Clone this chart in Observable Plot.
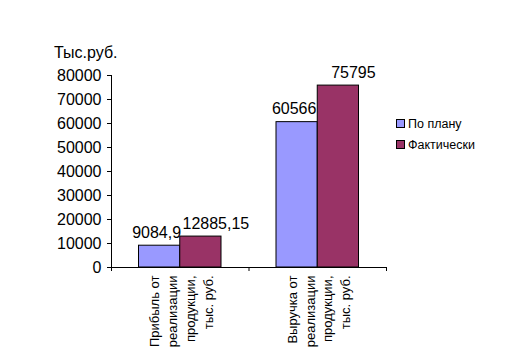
<!DOCTYPE html>
<html>
<head>
<meta charset="utf-8">
<script src="https://cdn.jsdelivr.net/npm/d3@7"></script>
<script src="https://cdn.jsdelivr.net/npm/@observablehq/plot@0.6"></script>
<style>
  html, body { margin: 0; padding: 0; background: #fff; }
  #wrap { position: relative; width: 529px; height: 357px; font-family: "Liberation Sans", Arial, sans-serif; }
  #title { position: absolute; left: 54px; top: 44px; font-size: 16px; color: #000; }
  #legend { position: absolute; left: 396px; top: 113px; font-size: 12.5px; color: #000; }
  .item { display: flex; align-items: center; height: 21px; }
  .sw { width: 7px; height: 7px; border: 1px solid #000; margin-right: 3px; }
</style>
</head>
<body>
<div id="wrap">
  <div id="title">Тыс.руб.</div>
  <div id="legend"></div>
</div>
<script>
const categories = ["Прибыль от\nреализации\nпродукции,\nтыс. руб.", "Выручка от\nреализации\nпродукции,\nтыс. руб."];
const series = ["По плану", "Фактически"];
const planValues = [9084.9, 60566];
const factValues = [12885.15, 75795];
const yTicks = [0, 10000, 20000, 30000, 40000, 50000, 60000, 70000, 80000];
const colors = ["#9999ff", "#993366"];

const data = [];
categories.forEach((c, i) => {
  data.push({ i, cat: c, s: 0, series: series[0], value: planValues[i] });
  data.push({ i, cat: c, s: 1, series: series[1], value: factValues[i] });
});
const fmt = v => String(v).replace(".", ",");

const chart = Plot.plot({
  width: 529,
  height: 357,
  marginTop: 75,
  marginBottom: 90,
  marginLeft: 111,
  marginRight: 143,
  style: { fontFamily: "Liberation Sans, Arial, sans-serif", fontSize: "16px", color: "#000", background: "transparent" },
  x: { domain: [0, categories.length] },
  y: { domain: [0, 80000] },
  color: { domain: series, range: colors },
  marks: [
    Plot.rectY(data, {
      x1: d => d.i + 0.2 + d.s * 0.3,
      x2: d => d.i + 0.5 + d.s * 0.3,
      y: "value",
      fill: "series",
      stroke: "#000",
      strokeWidth: 1
    }),
    Plot.text(data.filter(d => d.s === 0), {
      x: d => d.i + 0.35,
      y: "value",
      text: d => fmt(d.value),
      lineAnchor: "bottom",
      dy: -8,
      dx: -3,
      fontSize: 16,
      fill: "#000"
    }),
    Plot.text(data.filter(d => d.s === 1), {
      x: d => d.i + 0.65,
      y: "value",
      text: d => fmt(d.value),
      lineAnchor: "bottom",
      dy: -8,
      dx: 15,
      fontSize: 16,
      fill: "#000"
    }),
    Plot.ruleX([0], { stroke: "#000" }),
    Plot.ruleY([0], { stroke: "#000" }),
    Plot.axisY({ ticks: yTicks, tickSize: 4, tickPadding: 6, tickFormat: d => String(d), label: null, fontSize: 16 }),
    Plot.axisX({ ticks: d3.range(categories.length + 1), tickSize: 4, tickFormat: () => "", label: null }),
    Plot.text(categories, {
      x: (d, i) => i + 0.5,
      text: d => d,
      frameAnchor: "bottom",
      rotate: -90,
      textAnchor: "end",
      lineAnchor: "middle",
      lineHeight: 1.38,
      dy: 8,
      fontSize: 13,
      fill: "#000"
    })
  ]
});
chart.style.position = "absolute";
chart.style.left = "0px";
chart.style.top = "0px";
const wrap = document.getElementById("wrap");
wrap.insertBefore(chart, wrap.firstChild);

const legend = document.getElementById("legend");
series.forEach((s, k) => {
  const item = document.createElement("div");
  item.className = "item";
  const sw = document.createElement("div");
  sw.className = "sw";
  sw.style.background = colors[k];
  const t = document.createElement("span");
  t.textContent = s;
  item.appendChild(sw);
  item.appendChild(t);
  legend.appendChild(item);
});
</script>
</body>
</html>
